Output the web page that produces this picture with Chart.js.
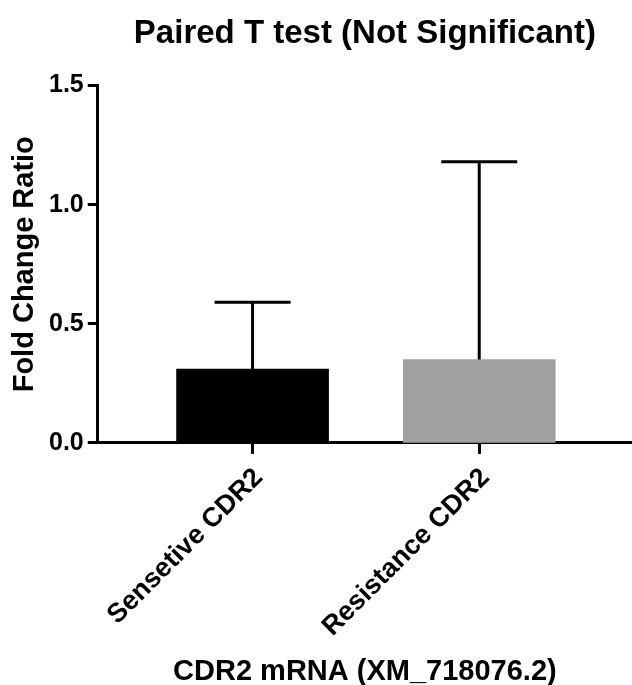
<!DOCTYPE html>
<html>
<head>
<meta charset="utf-8">
<script src="https://cdn.jsdelivr.net/npm/chart.js@4"></script>
<style>
  body { margin: 0; background: #fff; }
  #wrap { width: 632px; height: 685px; }
</style>
</head>
<body>
<div id="wrap"><canvas id="chart0"></canvas></div>
<script>
// values
const categories = ["Sensetive CDR2", "Resistance CDR2"];
const foldChange = [0.31, 0.35];
const foldChangeSD = [0.28, 0.83];
const yTicks = [0.0, 0.5, 1.0, 1.5];

const fontFamily = "'Liberation Sans', Arial, Helvetica, sans-serif";

// upper error bars with caps, drawn from the scales
const errorBars = {
    id: "errorBars",
    afterDatasetsDraw(chart) {
        const ctx = chart.ctx;
        const meta = chart.getDatasetMeta(0);
        const xs = chart.scales.x;
        const ys = chart.scales.y;
        ctx.save();
        ctx.strokeStyle = "#000";
        ctx.lineWidth = 3;
        meta.data.forEach((bar, i) => {
            const x = xs.getPixelForValue(i + 1);
            const yBar = ys.getPixelForValue(foldChange[i]);
            const yTop = ys.getPixelForValue(foldChange[i] + foldChangeSD[i]);
            const half = bar.width / 4;
            ctx.beginPath();
            ctx.moveTo(x, yBar);
            ctx.lineTo(x, yTop);
            ctx.moveTo(x - half, yTop);
            ctx.lineTo(x + half, yTop);
            ctx.stroke();
        });
        ctx.restore();
    }
};

const ctx = document.getElementById("chart0").getContext("2d");
window.chart = new Chart(ctx, {
    type: "bar",
    data: {
        datasets: [
            {
                data: foldChange.map((v, i) => ({ x: i + 1, y: v })),
                backgroundColor: ["#000000", "#a0a0a0"],
                borderWidth: 0,
                barThickness: 152,
            },
        ],
    },
    options: {
        responsive: true,
        maintainAspectRatio: false,
        animation: false,
        layout: { padding: { left: 0, right: 0, top: 0, bottom: 0 } },
        scales: {
            x: {
                type: "linear",
                offset: false,
                min: 0.317,
                max: 2.674,
                afterBuildTicks: (scale) => {
                    scale.ticks = categories.map((_, i) => ({ value: i + 1 }));
                },
                ticks: {
                    autoSkip: false,
                    minRotation: 45,
                    maxRotation: 45,
                    padding: 8,
                    labelOffset: 6,
                    color: "#000",
                    font: { family: fontFamily, size: 27, weight: "bold" },
                    callback: (v) => categories[v - 1] || "",
                },
                grid: {
                    offset: false,
                    drawOnChartArea: false,
                    drawTicks: true,
                    tickLength: 11,
                    tickWidth: 3,
                    tickColor: "#000",
                },
                border: { display: true, color: "#000", width: 3 },
                title: {
                    display: true,
                    text: "CDR2 mRNA (XM_718076.2)",
                    color: "#000",
                    font: { family: fontFamily, size: 29, weight: "bold", lineHeight: 0.9 },
                    padding: { top: 8, bottom: 0 },
                },
            },
            y: {
                min: 0,
                max: 1.5,
                afterBuildTicks: (scale) => {
                    scale.ticks = yTicks.map((v) => ({ value: v }));
                },
                ticks: {
                    padding: 4,
                    color: "#000",
                    font: { family: fontFamily, size: 25, weight: "bold" },
                    callback: (v) => Number(v).toFixed(1),
                },
                grid: {
                    drawOnChartArea: false,
                    drawTicks: true,
                    tickLength: 10,
                    tickWidth: 3,
                    tickColor: "#000",
                },
                border: { display: true, color: "#000", width: 3 },
                title: {
                    display: true,
                    text: "Fold Change Ratio",
                    color: "#000",
                    font: { family: fontFamily, size: 29, weight: "bold", lineHeight: 1 },
                    padding: { top: 10, bottom: 6 },
                },
            },
        },
        plugins: {
            legend: { display: false },
            tooltip: { enabled: false },
            title: {
                display: true,
                fullSize: false,
                text: "Paired T test (Not Significant)",
                color: "#000",
                font: { family: fontFamily, size: 33, weight: "bold" },
                padding: { top: 14, bottom: 32 },
            },
        },
    },
    plugins: [errorBars],
});
</script>
</body>
</html>
